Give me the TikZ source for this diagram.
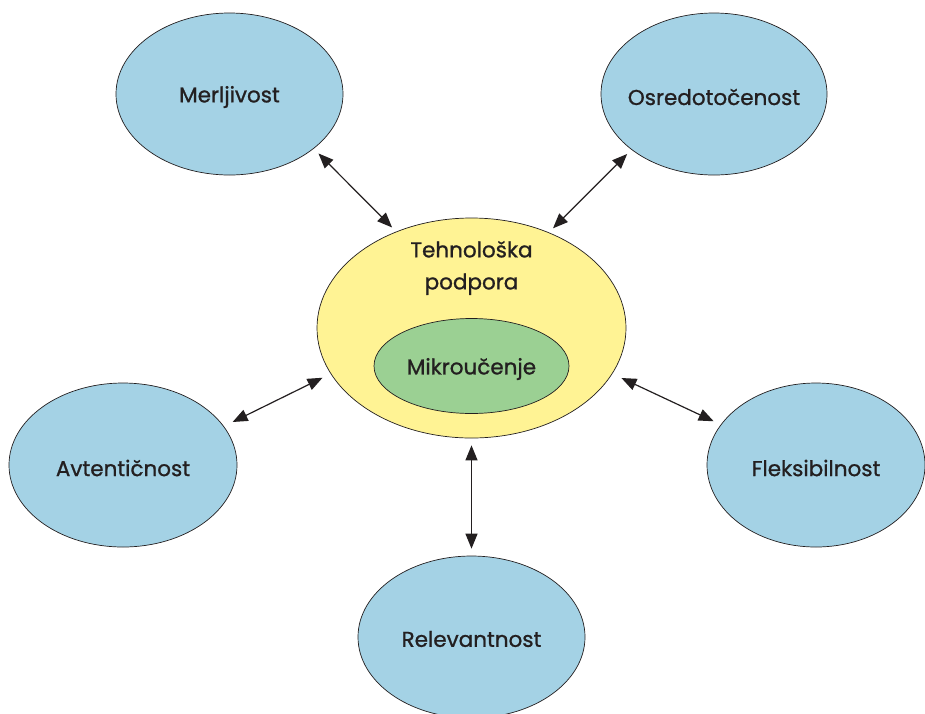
\documentclass[tikz,border=0pt]{standalone}
\usepackage{fontspec}
\setmainfont{Poppins}[FakeBold=1]
\usetikzlibrary{shapes.geometric,arrows.meta}
\definecolor{bluefill}{RGB}{164,210,229}
\definecolor{yellowfill}{RGB}{255,243,148}
\definecolor{greenfill}{RGB}{155,208,147}
\definecolor{ink}{RGB}{35,31,32}
\tikzset{
  outer/.style={ellipse, draw=ink, line width=0.7pt, fill=bluefill, inner sep=0pt},
  hub/.style={ellipse, draw=ink, line width=0.7pt, fill=yellowfill, inner sep=0pt,
    minimum width=309pt, minimum height=220pt},
  inner/.style={ellipse, draw=ink, line width=0.7pt, fill=greenfill, inner sep=0pt,
    minimum width=195pt, minimum height=95pt},
  label/.style={font=\fontsize{21.5}{32}\selectfont, text=ink, align=center, inner sep=0pt},
  link/.style={{Triangle[length=15pt,width=12pt]}-{Triangle[length=15pt,width=12pt]},
    draw=ink, line width=1.2pt}
}
\begin{document}
\begin{tikzpicture}[x=1pt,y=-1pt]
\useasboundingbox (0,0) rectangle (925,713);
% outer ellipses
\node[outer, minimum width=227pt, minimum height=162pt] (m) at (229.5,94) {};
\node[label] (mt) at (229.5,97) {Merljivost};
\node[outer, minimum width=226pt, minimum height=162pt] (o) at (714,94) {};
\node[label] (ot) at (714,97) {Osredotočenost};
\node[outer, minimum width=228pt, minimum height=164pt] (a) at (123,465) {};
\node[label] (at) at (123,468) {Avtentičnost};
\node[outer, minimum width=218pt, minimum height=164pt] (f) at (816,465) {};
\node[label] (ft) at (816,468) {Fleksibilnost};
\node[outer, minimum width=227pt, minimum height=162pt] (r) at (471.5,637) {};
\node[label] (rt) at (471.5,639) {Relevantnost};
% hub
\node[hub] (c) at (471.5,328) {};
\node[inner] (g) at (471.5,366) {};
\node[label] (gt) at (471.5,369) {Mikroučenje};
\node[label] (t) at (471.5,268) {Tehnološka\\podpora};
% connectors
\draw[link, shorten <=6.7pt, shorten >=5.8pt] (m.-33.7) -- (c.128.8);
\draw[link, shorten <=6pt, shorten >=5.8pt] (o.214.1) -- (c.51.2);
\draw[link, shorten <=9.7pt, shorten >=9pt] (a.21.5) -- (c.198.5);
\draw[link, shorten <=7.8pt, shorten >=10pt] (f.157.8) -- (c.-18.5);
\draw[link, shorten <=7pt, shorten >=7pt] (r.90) -- (c.-90);
\end{tikzpicture}
\end{document}
